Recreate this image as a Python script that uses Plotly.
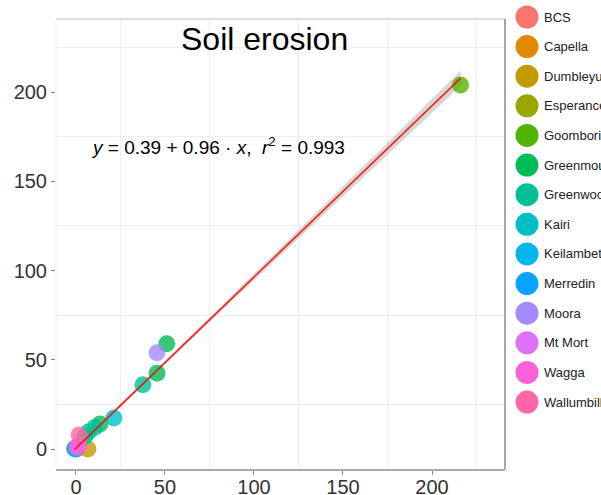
import plotly.graph_objects as go

sites = ["BCS", "Capella", "Dumbleyung", "Esperance", "Goomboring", "Greenmount",
         "Greenwood", "Kairi", "Keilambete", "Merredin", "Moora", "Mt Mort", "Wagga", "Wallumbilla"]
colors = ["#F8766D", "#E38900", "#C49A00", "#99A800", "#53B400", "#00BC56", "#00C094",
          "#00BFC4", "#00B6EB", "#06A4FF", "#A58AFF", "#DF70F8", "#FB61D7", "#FF66A8"]

# observed (x) vs predicted (y) soil erosion per site
site_x = {
    "BCS": [0.5], "Capella": [0.2], "Dumbleyung": [6.7], "Esperance": [-0.8],
    "Goomboring": [216.0], "Greenmount": [51.0, 45.5, 13.5], "Greenwood": [37.6, 10.5, 7.0, 5.0],
    "Kairi": [21.3], "Keilambete": [-0.5], "Merredin": [0.0], "Moora": [45.5],
    "Mt Mort": [0.5], "Wagga": [1.5], "Wallumbilla": [1.8],
}
site_y = {
    "BCS": [0.0], "Capella": [0.1], "Dumbleyung": [0.0], "Esperance": [0.3],
    "Goomboring": [204.0], "Greenmount": [59.0, 42.5, 14.0], "Greenwood": [36.0, 12.0, 9.5, 7.0],
    "Kairi": [17.4], "Keilambete": [0.0], "Merredin": [0.5], "Moora": [54.0],
    "Mt Mort": [1.0], "Wagga": [2.0], "Wallumbilla": [7.9],
}
intercept, slope, r2 = 0.39, 0.96, 0.993
# confidence band half-width
band_x = [-0.8, 25, 50, 75, 100, 125, 150, 175, 200, 216]
band_hw = [1.2, 1.0, 1.0, 1.3, 1.7, 2.2, 2.7, 3.3, 3.9, 4.3]
x_ticks = [0, 50, 100, 150, 200]
minor_ticks = [25, 75, 125, 175, 225]

H = 495.0
y_lo, y_hi = 26 / H, 1 - 19 / H
x_dom = 449 / 545

fig = go.Figure()

line_y = [intercept + slope * v for v in band_x]
upper = [a + b for a, b in zip(line_y, band_hw)]
lower = [a - b for a, b in zip(line_y, band_hw)]
fig.add_trace(go.Scatter(x=band_x + band_x[::-1], y=upper + lower[::-1],
                         fill="toself", fillcolor="rgba(153,153,153,0.4)", line=dict(width=0),
                         mode="lines", showlegend=False, hoverinfo="skip"))

for s, c in zip(sites, colors):
    fig.add_trace(go.Scatter(x=site_x[s], y=site_y[s], mode="markers", name=s,
                             marker=dict(size=17, color=c, opacity=0.8, line=dict(width=0)),
                             showlegend=False))

fig.add_trace(go.Scatter(x=band_x, y=line_y, mode="lines", line=dict(color="rgba(255,0,0,0.85)", width=1.6),
                         showlegend=False, hoverinfo="skip"))

# manual legend on a side axis
fig.add_trace(go.Scatter(x=[22] * len(sites), y=list(range(len(sites))), xaxis="x2", yaxis="y2",
                         mode="markers", marker=dict(size=23, color=colors, line=dict(width=0)),
                         cliponaxis=False, showlegend=False, hoverinfo="skip"))
annotations = []
for i, s in enumerate(sites):
    annotations.append(dict(x=37, y=i, xref="x2", yref="y2", text=s, showarrow=False,
                            xanchor="left", yanchor="middle",
                            font=dict(family="Liberation Sans", size=13, color="#222222")))

annotations.append(dict(x=106, y=230, xref="x", yref="y", text="Soil erosion", showarrow=False,
                        xanchor="center", yanchor="middle",
                        font=dict(family="Liberation Sans", size=32, color="#000000")))
annotations.append(dict(x=80, y=170, xref="x", yref="y",
                        text=f"<i>y</i> = {intercept:.2f} + {slope:.2f} · <i>x</i>,  <i>r</i><sup>2</sup> = {r2:.3f}",
                        showarrow=False, xanchor="center", yanchor="middle",
                        font=dict(family="Liberation Sans", size=19, color="#000000")))

shapes = [
    dict(type="line", xref="paper", yref="paper", x0=0, x1=x_dom, y0=y_hi, y1=y_hi,
         line=dict(color="#DDDDDD", width=2)),
    dict(type="line", xref="paper", yref="paper", x0=x_dom, x1=x_dom, y0=y_lo, y1=y_hi,
         line=dict(color="#888888", width=1.5)),
    dict(type="line", xref="paper", yref="paper", x0=0, x1=0, y0=y_lo, y1=y_hi,
         line=dict(color="#F0F0F0", width=1)),
]

axis_common = dict(range=[-11.2, 241], tickvals=x_ticks, ticks="outside", ticklen=4,
                   tickcolor="#888888", tickwidth=1, showgrid=False, zeroline=False,
                   tickfont=dict(family="Liberation Sans", size=20, color="#333333"),
                   minor=dict(tickvals=minor_ticks, showgrid=True, gridcolor="#EFEFEF", gridwidth=1))

fig.update_layout(
    width=601, height=495,
    margin=dict(l=56, r=0, t=0, b=0, autoexpand=False),
    paper_bgcolor="white", plot_bgcolor="white",
    xaxis=dict(domain=[0, x_dom], showline=True, linecolor="#AAAAAA", linewidth=2,
               ticklabelstandoff=-5, **axis_common),
    yaxis=dict(domain=[y_lo, y_hi], showline=False, **axis_common),
    xaxis2=dict(domain=[x_dom, 1], range=[0, 96], visible=False, anchor="y2"),
    yaxis2=dict(domain=[0, 1], range=[16.14, -0.574], visible=False, anchor="x2"),
    annotations=annotations,
    shapes=shapes,
    showlegend=False,
)

fig.write_html("out.html")
